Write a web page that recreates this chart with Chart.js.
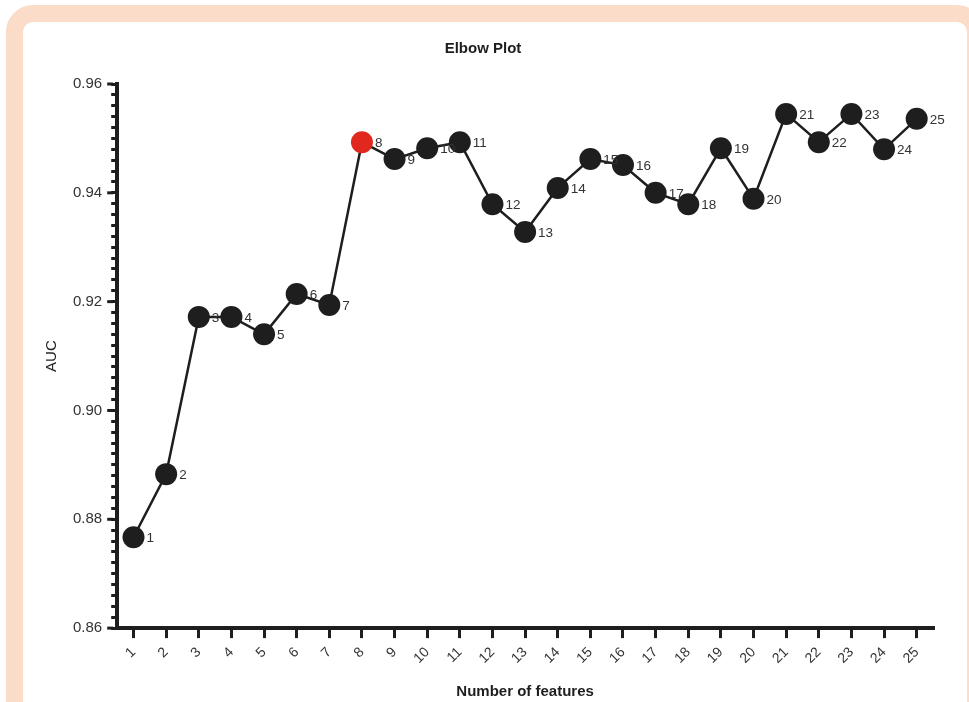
<!DOCTYPE html>
<html lang="en">
<head>
    <meta charset="UTF-8">
    <title>Elbow Plot</title>
    <script src="https://cdn.jsdelivr.net/npm/chart.js"></script>
    <style>
        html, body { margin: 0; padding: 0; background: #fff; overflow: hidden; }
        .frame {
            position: absolute; left: 6px; top: 5px;
            width: 944px; height: 760px;
            border: 17px solid #fbdcc8;
            border-radius: 27px;
            background: #fff;
        }
        .wrap { position: absolute; left: 0; top: 0; width: 969px; height: 702px; }
    </style>
</head>
<body>
    <div class="frame"></div>
    <div class="wrap">
        <canvas id="myChart" width="969" height="702"></canvas>
    </div>
    <script>
        const features = ['1','2','3','4','5','6','7','8','9','10','11','12','13','14','15','16','17','18','19','20','21','22','23','24','25'];
        const auc = [0.8767, 0.8883, 0.9172, 0.9172, 0.9140, 0.9214, 0.9194, 0.9493, 0.9462, 0.9482, 0.9493, 0.9379, 0.9328,
                     0.9409, 0.9462, 0.9451, 0.9400, 0.9379, 0.9482, 0.9389, 0.9545, 0.9493, 0.9545, 0.9480, 0.9536];
        const elbowIndex = 7; // feature 8 marcado em vermelho
        const yMin = 0.86, yMax = 0.96, minorStep = 0.002, majorStep = 0.02;

        const ink = '#1e1e1e';
        const font = 'Liberation Sans, Arial, Helvetica, sans-serif';

        function isMajor(v) {
            const r = v / majorStep;
            return Math.abs(r - Math.round(r)) < 1e-6;
        }

        // rotulos ao lado de cada ponto
        const pointLabels = {
            id: 'pointLabels',
            afterDatasetsDraw(chart) {
                const c = chart.ctx;
                const meta = chart.getDatasetMeta(0);
                c.save();
                c.font = '13.5px ' + font;
                c.fillStyle = '#333';
                c.textAlign = 'left';
                c.textBaseline = 'middle';
                meta.data.forEach((pt, i) => {
                    c.fillText(features[i], pt.x + 13, pt.y + 1);
                });
                c.restore();
            }
        };

        // ticks maiores no eixo y
        const majorTicks = {
            id: 'majorTicks',
            afterDraw(chart) {
                const y = chart.scales.y;
                const c = chart.ctx;
                c.save();
                c.strokeStyle = ink;
                c.lineWidth = 3;
                y.ticks.forEach(t => {
                    if (!isMajor(t.value)) return;
                    const py = y.getPixelForValue(t.value);
                    c.beginPath();
                    c.moveTo(chart.chartArea.left - 10, py);
                    c.lineTo(chart.chartArea.left - 4, py);
                    c.stroke();
                });
                c.restore();
            }
        };

        const ctx = document.getElementById('myChart').getContext('2d');
        const chart = new Chart(ctx, {
            type: 'line',
            data: {
                labels: features,
                datasets: [{
                    data: auc,
                    borderColor: ink,
                    borderWidth: 2.5,
                    pointRadius: 11,
                    pointHoverRadius: 11,
                    pointBorderWidth: 0,
                    pointBackgroundColor: auc.map((v, i) => i === elbowIndex ? '#e0281e' : ink),
                    tension: 0
                }]
            },
            options: {
                responsive: false,
                animation: false,
                layout: { padding: { left: 33, right: 36, top: 30, bottom: 1 } },
                plugins: {
                    legend: { display: false },
                    tooltip: { enabled: false },
                    title: {
                        display: true,
                        text: 'Elbow Plot',
                        color: ink,
                        font: { family: font, size: 15, weight: 'bold' },
                        padding: { top: 10, bottom: 26 }
                    }
                },
                scales: {
                    x: {
                        offset: true,
                        grid: { display: true, drawOnChartArea: false, offset: false, tickLength: 10, lineWidth: 3, color: ink },
                        border: { display: true, width: 4, color: ink },
                        ticks: {
                            color: '#333',
                            font: { family: font, size: 14 },
                            minRotation: 45, maxRotation: 45,
                            autoSkip: false,
                            padding: 6
                        },
                        title: {
                            display: true,
                            text: 'Number of features',
                            color: ink,
                            font: { family: font, size: 15, weight: 'bold' },
                            padding: { top: 10, bottom: 0 }
                        }
                    },
                    y: {
                        min: yMin, max: yMax,
                        grid: { display: true, drawOnChartArea: false, tickLength: 6, lineWidth: 3, color: ink },
                        border: { display: true, width: 4, color: ink },
                        ticks: {
                            stepSize: minorStep,
                            autoSkip: false,
                            color: '#333',
                            font: { family: font, size: 15 },
                            padding: 9,
                            callback: v => isMajor(v) ? v.toFixed(2) : ''
                        },
                        title: {
                            display: true,
                            text: 'AUC',
                            color: ink,
                            font: { family: font, size: 15 },
                            padding: { top: 10, bottom: 3 }
                        }
                    }
                }
            },
            plugins: [pointLabels, majorTicks]
        });
    </script>
</body>
</html>
